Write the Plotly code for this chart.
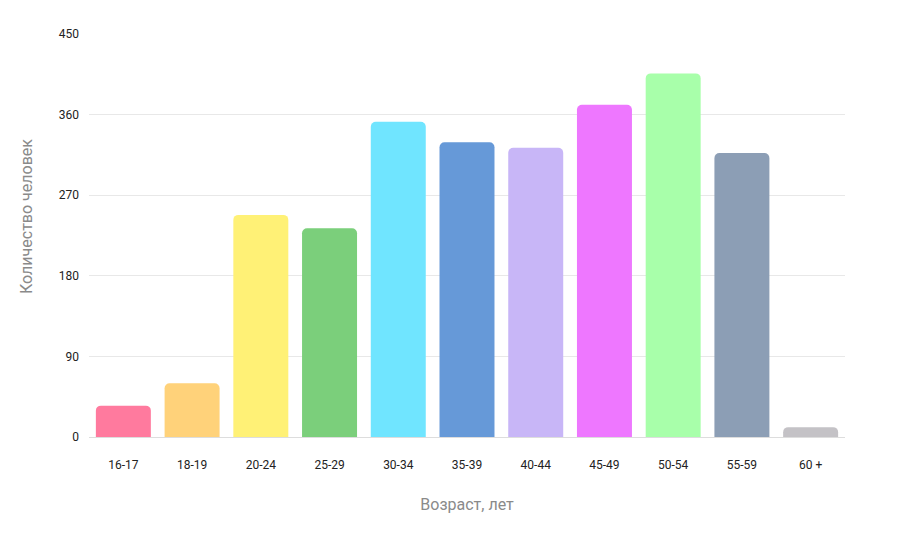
import plotly.graph_objects as go

categories = ["16-17", "18-19", "20-24", "25-29", "30-34", "35-39", "40-44", "45-49", "50-54", "55-59", "60 +"]
values = [35, 60, 248, 233, 352, 329, 323, 371, 406, 317, 11]
colors = ["#FF7A9E", "#FFD27A", "#FFF176", "#7BCF7B", "#70E5FF", "#6699D8",
          "#C8B6F7", "#EE77FF", "#A8FFAA", "#8C9EB5", "#C4C2C6"]
y_ticks = [0, 90, 180, 270, 360, 450]

fig = go.Figure(go.Bar(
    x=categories, y=values, marker=dict(color=colors, line=dict(width=0)),
    hoverinfo="x+y",
))
fig.update_layout(
    width=912, height=538,
    margin=dict(l=81, r=75, t=26, b=109),
    paper_bgcolor="white", plot_bgcolor="white",
    bargap=0.2, barcornerradius=5,
    font=dict(family="Roboto", size=12, color="#222"),
    showlegend=False,
    xaxis=dict(
        title=dict(text="Возраст, лет", font=dict(size=16, color="#8a8a8a"), standoff=27),
        showgrid=False, showline=True, linecolor="#dddddd", linewidth=1,
        ticks="", ticklabelstandoff=17, tickfont=dict(size=12, color="#222"),
    ),
    yaxis=dict(
        range=[0, 450], tickvals=y_ticks, showgrid=True, gridcolor="#e8e8e8",
        zeroline=False, ticks="", ticklabelstandoff=9,
        tickfont=dict(size=12, color="#222"),
    ),
    annotations=[dict(
        text="Количество человек", textangle=-90, showarrow=False,
        xref="paper", yref="paper", x=-0.082, y=0.546,
        xanchor="center", yanchor="middle",
        font=dict(size=16, color="#8a8a8a"),
    )],
)
fig.write_html("out.html")
